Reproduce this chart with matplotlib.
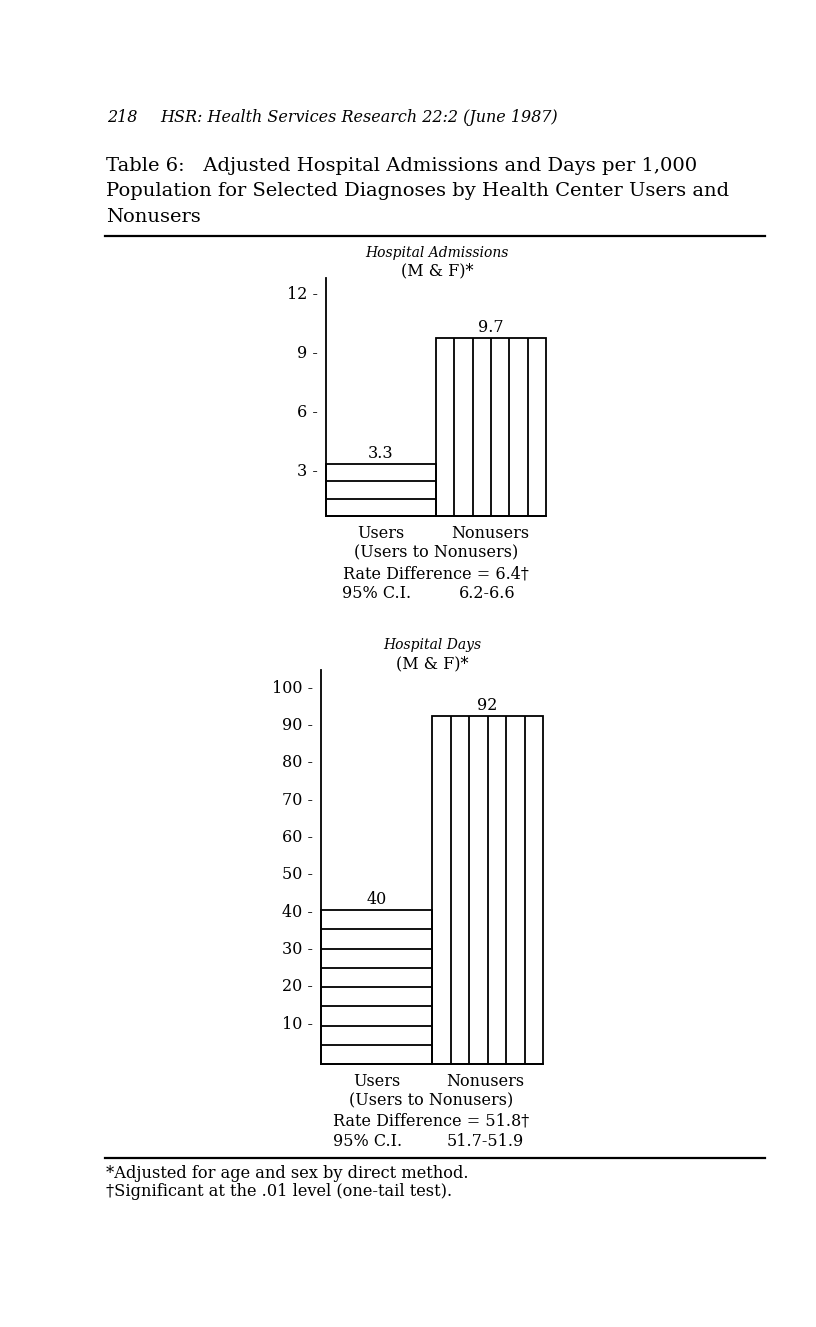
import numpy as np
import matplotlib
matplotlib.use("Agg")
import matplotlib.pyplot as plt

plt.rcParams['font.family'] = ['DejaVu Serif']

W, H = 816, 1327

# data
groups = ["Users", "Nonusers"]
admissions = [3.3, 9.7]
admissions_labels = ["3.3", "9.7"]
admissions_ticks = [3, 6, 9, 12]
days = [40, 92]
days_labels = ["40", "92"]
days_ticks = [10, 20, 30, 40, 50, 60, 70, 80, 90, 100]

FS = 11.5  # chart text size


def fx(x):
    return x / W


def fy(y):
    return 1 - y / H


def rect(left, right, top, bottom):
    return [left / W, 1 - bottom / H, (right - left) / W, (bottom - top) / H]


def draw_chart(box, ylim, values, labels, ticks, n_bands, label_off):
    ax = fig.add_axes(rect(*box))
    ax.set_xlim(0, 2)
    ax.set_ylim(*ylim)
    base = ylim[0]
    heights = [v - base for v in values]
    ax.bar([0, 1], heights, bottom=base, width=1, align='edge', fill=False,
           edgecolor='black', linewidth=1.3, clip_on=False)
    # horizontal bands on the users bar
    ys = np.linspace(base, values[0], n_bands + 1)[1:-1]
    ax.hlines(ys, 0, 1, color='black', linewidth=1.3)
    # vertical columns on the nonusers bar
    xs = 1 + np.arange(1, 6) / 6
    ax.vlines(xs, base, values[1], color='black', linewidth=1.3)
    for i, (v, lab) in enumerate(zip(values, labels)):
        ax.text(i + 0.5, v + label_off, lab, ha='center', va='bottom', fontsize=FS)
    ax.spines['top'].set_visible(False)
    ax.spines['right'].set_visible(False)
    ax.spines['left'].set_linewidth(1.3)
    ax.spines['bottom'].set_linewidth(1.3)
    ax.set_xticks([])
    ax.set_yticks(ticks)
    ax.set_yticklabels([f"{t} -" for t in ticks], fontsize=11.5)
    ax.tick_params(axis='y', length=0, pad=6)
    return ax


fig = plt.figure(figsize=(W / 100, H / 100), dpi=100)

fig.text(fx(107), fy(118), "218", style='italic', fontsize=11.5, va='center')
fig.text(fx(160), fy(118), "HSR: Health Services Research 22:2 (June 1987)",
         style='italic', fontsize=11.5, va='center')

title = ["Table 6:   Adjusted Hospital Admissions and Days per 1,000",
         "Population for Selected Diagnoses by Health Center Users and",
         "Nonusers"]
for i, line in enumerate(title):
    fig.text(fx(106), fy(166 + i * 25.5), line, fontsize=14, va='center')

fig.add_artist(plt.Line2D([fx(105), fx(765)], [fy(236), fy(236)], color='black', linewidth=1.6))
fig.add_artist(plt.Line2D([fx(105), fx(765)], [fy(1158), fy(1158)], color='black', linewidth=1.6))

# top chart
fig.text(fx(437), fy(253), "Hospital Admissions", style='italic', fontsize=10, ha='center', va='center')
fig.text(fx(437), fy(271), "(M & F)*", fontsize=FS, ha='center', va='center')
draw_chart((326, 546, 278, 516), (0.66, 12.76), admissions, admissions_labels,
           admissions_ticks, 3, 0.1)
fig.text(fx(381), fy(533), groups[0], fontsize=FS, ha='center', va='center')
fig.text(fx(490), fy(533), groups[1], fontsize=FS, ha='center', va='center')
fig.text(fx(436), fy(553), "(Users to Nonusers)", fontsize=FS, ha='center', va='center')
fig.text(fx(436), fy(574), "Rate Difference = 6.4\u2020", fontsize=FS, ha='center', va='center')
fig.text(fx(342), fy(594), "95% C.I.", fontsize=FS, va='center')
fig.text(fx(459), fy(594), "6.2-6.6", fontsize=FS, va='center')

# bottom chart
fig.text(fx(432), fy(645), "Hospital Days", style='italic', fontsize=10, ha='center', va='center')
fig.text(fx(432), fy(664), "(M & F)*", fontsize=FS, ha='center', va='center')
draw_chart((321, 543, 670, 1064), (-1.25, 104.3), days, days_labels,
           days_ticks, 8, 0.5)
fig.text(fx(377), fy(1081), groups[0], fontsize=FS, ha='center', va='center')
fig.text(fx(485), fy(1081), groups[1], fontsize=FS, ha='center', va='center')
fig.text(fx(431), fy(1101), "(Users to Nonusers)", fontsize=FS, ha='center', va='center')
fig.text(fx(431), fy(1121), "Rate Difference = 51.8\u2020", fontsize=FS, ha='center', va='center')
fig.text(fx(333), fy(1141), "95% C.I.", fontsize=FS, va='center')
fig.text(fx(447), fy(1141), "51.7-51.9", fontsize=FS, va='center')

fig.text(fx(106), fy(1173), "*Adjusted for age and sex by direct method.", fontsize=11.7, va='center')
fig.text(fx(106), fy(1192), "\u2020Significant at the .01 level (one-tail test).", fontsize=11.7, va='center')

fig.savefig("out.png", dpi=100, facecolor='white')
